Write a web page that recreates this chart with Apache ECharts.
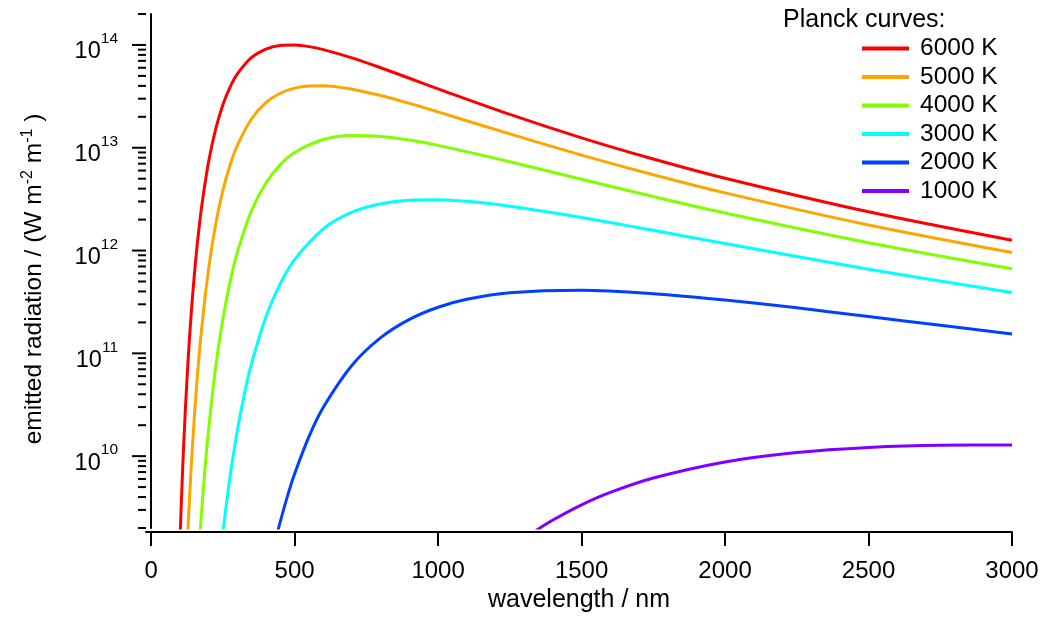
<!DOCTYPE html>
<html><head><meta charset="utf-8">
<script src="https://cdn.jsdelivr.net/npm/echarts@6.0.0/dist/echarts.min.js"></script>
<style>html,body{margin:0;padding:0;background:#fff}#c{width:1046px;height:621px}</style>
</head><body><div id="c"></div>
<script>
const FONT = '"Liberation Sans", Arial, sans-serif';

const seriesNames = ['6000 K', '5000 K', '4000 K', '3000 K', '2000 K', '1000 K'];
const seriesColors = ['#ff0000', '#ffa500', '#80ff00', '#00ffff', '#0040ff', '#8000ff'];

// wavelengths (nm) and emitted radiation (W m^-2 m^-1)
const lam6000 = [100,110,120,130,140,150,160,175,200,225,250,275,300,350,400,450,500,550,600,700,800,900,1000,1250,1500,1750,2000,2500,3000];
const val6000 = [1.44e9,7.92e9,3.15e10,9.83e10,2.53e11,5.62e11,1.105e12,2.55e12,7.26e12,1.526e13,2.62e13,3.89e13,5.20e13,7.55e13,9.13e13,9.88e13,9.97e13,9.63e13,9.01e13,7.49e13,6.00e13,4.74e13,3.74e13,2.11e13,1.249e13,7.77e12,5.05e12,2.38e12,1.258e12];

const lam5000 = [125,130,140,150,160,175,200,225,250,275,300,350,400,450,500,550,600,700,800,900,1000,1250,1500,1750,2000,2500,3000];
const val5000 = [1.23e9,2.46e9,8.24e9,2.30e10,5.52e10,1.647e11,6.60e11,1.811e12,3.84e12,6.79e12,1.051e13,1.916e13,2.75e13,3.39e13,3.80e13,3.99e13,4.01e13,3.71e13,3.22e13,2.70e13,2.23e13,1.363e13,8.48e12,5.46e12,3.64e12,1.773e12,9.57e11];

const lam4000 = [170,175,180,190,200,225,250,275,300,350,400,450,500,600,700,800,900,1000,1250,1500,1750,2000,2500,3000];
const val4000 = [1.70e9,2.70e9,4.15e9,9.06e9,1.807e10,7.40e10,2.16e11,4.96e11,9.56e11,2.45e12,4.54e12,6.85e12,9.00e12,1.202e13,1.314e13,1.288e13,1.187e13,1.054e13,7.31e12,4.93e12,3.35e12,2.32e12,1.192e12,6.65e11];

const lam3000 = [250,260,275,300,325,350,400,450,500,600,700,800,900,1000,1100,1250,1500,1750,2000,2500,3000];
const val3000 = [1.79e9,3.07e9,6.34e9,1.756e10,4.03e10,7.98e10,2.27e11,4.77e11,8.17e11,1.626e12,2.36e12,2.85e12,3.09e12,3.12e12,3.01e12,2.70e12,2.10e12,1.573e12,1.169e12,6.59e11,3.90e11];

const lam2000 = [440,450,475,500,550,600,700,800,900,1000,1100,1250,1500,1750,2000,2250,2500,2750,3000];
const val2000 = [1.80e9,2.31e9,4.09e9,6.75e9,1.551e10,2.99e10,7.66e10,1.420e11,2.14e11,2.81e11,3.36e11,3.89e11,4.11e11,3.80e11,3.30e11,2.77e11,2.28e11,1.876e11,1.539e11];

const lam1000 = [1340,1400,1500,1600,1750,2000,2250,2500,2750,3000];
const val1000 = [1.88e9,2.39e9,3.36e9,4.44e9,6.13e9,8.79e9,1.086e10,1.217e10,1.278e10,1.283e10];

const xTicks = [0, 500, 1000, 1500, 2000, 2500, 3000];
const yDecades = [1e10, 1e11, 1e12, 1e13, 1e14];
const yMinorBases = [1e9, 1e10, 1e11, 1e12, 1e13, 1e14];
const yMinorFactors = [2, 3, 4, 5, 6, 7, 8, 9];
const xMin = -18, xMax = 3000, yMin = 2e9, yMax = 2e14;

const lamList = [lam6000, lam5000, lam4000, lam3000, lam2000, lam1000];
const valList = [val6000, val5000, val4000, val3000, val2000, val1000];

const yTickData = [];
yDecades.forEach(d => yTickData.push([xMin, d, 14]));
yMinorBases.forEach(d => yMinorFactors.forEach(f => {
  const v = d * f;
  if (v >= yMin * 0.999 && v <= yMax * 1.001) yTickData.push([xMin, v, 8]);
}));

const lineSeries = seriesNames.map((name, i) => ({
  name: name,
  type: 'line',
  data: lamList[i].map((l, j) => [l, valList[i][j]]),
  showSymbol: false,
  symbol: 'none',
  smooth: 0.3,
  clip: true,
  lineStyle: { color: seriesColors[i], width: 3 },
  itemStyle: { color: seriesColors[i] },
  emphasis: { disabled: true },
  z: 3
}));

const chart = echarts.init(document.getElementById('c'), null, { renderer: 'canvas' });
chart.setOption({
  animation: false,
  backgroundColor: '#ffffff',
  textStyle: { fontFamily: FONT },
  title: {
    text: 'Planck curves:',
    left: 783, top: 8, padding: 0,
    textStyle: { fontFamily: FONT, fontSize: 25, fontWeight: 'normal', color: '#000' }
  },
  legend: {
    data: seriesNames,
    orient: 'vertical',
    left: 862, top: 36,
    padding: 0,
    icon: 'rect',
    itemWidth: 47, itemHeight: 4, itemGap: 3.5,
    selectedMode: false,
    textStyle: { fontFamily: FONT, fontSize: 24.5, color: '#000', padding: [0, 0, 0, 6], lineHeight: 24 }
  },
  grid: { left: 146, right: 34, top: 14, bottom: 93, containLabel: false },
  xAxis: {
    type: 'value',
    min: xMin, max: xMax,
    position: 'bottom',
    offset: 4,
    name: 'wavelength / nm',
    nameLocation: 'middle',
    nameGap: 55,
    nameTextStyle: { fontFamily: FONT, fontSize: 25, color: '#000' },
    axisLine: { show: true, onZero: false, lineStyle: { color: '#000', width: 2 } },
    axisTick: { show: true, customValues: xTicks, length: 14, lineStyle: { color: '#000', width: 2 } },
    axisLabel: {
      customValues: xTicks, fontFamily: FONT, fontSize: 24, color: '#000', margin: 27,
      formatter: function (v) { return String(v); }
    },
    splitLine: { show: false }
  },
  yAxis: {
    type: 'log',
    logBase: 10,
    min: yMin, max: yMax,
    name: 'emitted radiation / (W m{s|-2} m{s|-1} )',
    nameLocation: 'middle',
    nameGap: 98,
    nameTextStyle: {
      fontFamily: FONT, fontSize: 24.5, color: '#000',
      padding: [0, 16, 0, 0],
      rich: {
        s: { fontFamily: FONT, fontSize: 16, color: '#000', verticalAlign: 'top', padding: [0, 0, 12, 0] }
      }
    },
    axisLine: { show: true, lineStyle: { color: '#000', width: 2 } },
    axisTick: { show: false },
    minorTick: { show: false },
    splitLine: { show: false },
    axisLabel: {
      margin: 28,
      color: '#000',
      padding: [5, 0, 0, 0],
      formatter: function (v) {
        const lg = Math.log10(v);
        const e = Math.round(lg);
        if (Math.abs(lg - e) > 1e-6) return '';
        return '{b|10}{s|' + e + '}';
      },
      rich: {
        b: { fontFamily: FONT, fontSize: 23.5, color: '#000', verticalAlign: 'bottom' },
        s: { fontFamily: FONT, fontSize: 15.5, color: '#000', verticalAlign: 'top', padding: [0, 0, 17, 0] }
      }
    }
  },
  series: lineSeries.concat([{
    type: 'custom',
    silent: true,
    clip: false,
    z: 4,
    encode: { x: 0, y: 1 },
    data: yTickData,
    renderItem: function (params, api) {
      const p = api.coord([api.value(0), api.value(1)]);
      const len = api.value(2);
      return {
        type: 'line',
        shape: { x1: p[0] - len, y1: p[1], x2: p[0], y2: p[1] },
        style: { stroke: '#000', lineWidth: 2 }
      };
    }
  }])
});
</script>
</body></html>
